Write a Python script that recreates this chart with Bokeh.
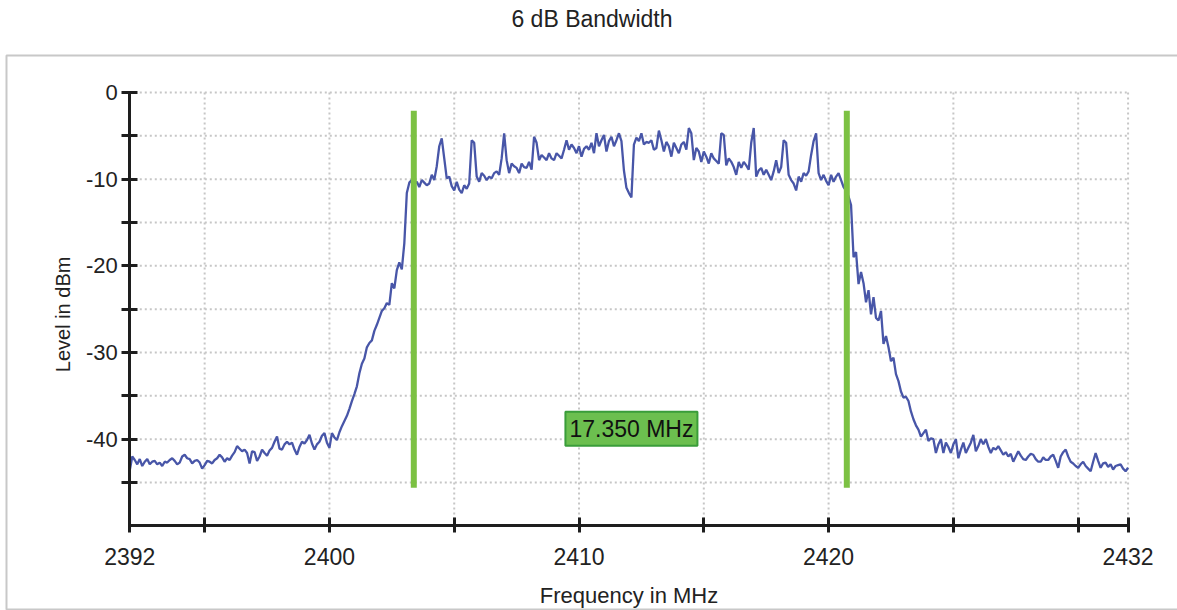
import math
from bokeh.plotting import figure
from bokeh.models import Range1d, FixedTicker, Label, BoxAnnotation
from bokeh.embed import file_html
from bokeh.resources import INLINE

title_text = "6 dB Bandwidth"
x_label = "Frequency in MHz"
y_label = "Level in dBm"

freq_start = 2392.0
freq_step = 0.1

# measured level (dBm), one value per 0.1 MHz from 2392.0 to 2432.0
level_dbm = [
    -43.6, -42.0, -42.4, -42.9, -42.3, -43.1, -42.6, -42.3, -42.9, -42.6,   # 2392
    -42.5, -42.9, -42.7, -43.1, -42.6, -42.7, -42.4, -42.2, -42.5, -42.9,   # 2393
    -42.7, -42.0, -41.8, -42.2, -42.3, -42.8, -42.5, -42.4, -42.7, -43.4,   # 2394
    -43.0, -42.5, -42.6, -42.8, -42.4, -42.2, -41.8, -42.1, -42.6, -42.2,   # 2395
    -42.4, -41.9, -41.5, -40.8, -41.1, -41.4, -41.2, -41.6, -42.8, -41.4,   # 2396
    -41.5, -42.5, -42.0, -41.2, -41.6, -41.9, -41.3, -41.0, -40.3, -39.7,   # 2397
    -41.1, -41.2, -40.6, -40.3, -40.6, -40.4, -41.2, -41.8, -40.9, -40.3,   # 2398
    -40.5, -40.1, -39.5, -40.5, -41.2, -40.6, -40.3, -39.6, -39.3, -40.4,   # 2399
    -41.0, -39.3, -39.8, -40.1, -39.2, -38.5, -37.9, -37.3, -36.5, -35.6,   # 2400
    -34.8, -33.9, -32.4, -31.3, -30.7, -29.4, -28.9, -28.6, -27.5, -26.8,   # 2401
    -26.0, -25.2, -24.9, -24.3, -24.5, -22.0, -22.6, -20.5, -19.6, -20.4,   # 2402
    -17.4, -11.6, -10.4, -10.1, -10.6, -10.3, -10.9, -10.1, -10.4, -10.7,   # 2403
    -10.5, -9.5, -10.1, -8.5, -6.2, -5.3, -7.6, -9.9, -9.7, -10.8,          # 2404
    -11.3, -10.3, -11.2, -11.6, -10.7, -11.1, -10.5, -5.5, -5.8, -9.7,      # 2405
    -10.3, -9.3, -9.6, -10.1, -9.7, -9.9, -9.3, -9.1, -9.5, -7.6,           # 2406
    -4.7, -7.8, -9.3, -8.2, -8.5, -8.7, -9.3, -8.2, -8.6, -8.7,             # 2407
    -8.0, -8.9, -5.1, -5.8, -7.8, -7.2, -7.5, -7.8, -7.0, -7.6,             # 2408
    -7.8, -7.0, -7.3, -7.6, -6.6, -5.5, -6.6, -6.0, -6.4, -7.0,             # 2409
    -6.2, -7.4, -6.5, -6.2, -6.6, -5.8, -7.0, -4.7, -6.2, -5.5,             # 2410
    -4.9, -6.8, -5.6, -5.1, -6.2, -5.5, -4.7, -5.6, -9.0, -11.0,            # 2411
    -11.6, -12.1, -6.0, -5.2, -5.6, -4.7, -6.0, -5.7, -5.8, -5.5,           # 2412
    -6.6, -6.4, -4.4, -5.5, -6.8, -5.7, -6.2, -7.4, -5.8, -6.4,             # 2413
    -7.0, -6.0, -5.7, -6.6, -4.1, -4.7, -7.8, -6.4, -6.8, -8.0,             # 2414
    -6.8, -7.4, -8.2, -7.0, -7.6, -7.9, -8.2, -4.7, -4.9, -8.4,             # 2415
    -7.6, -8.0, -8.6, -9.5, -8.0, -8.7, -8.0, -8.4, -8.9, -5.8,             # 2416
    -4.1, -9.7, -9.0, -8.7, -9.5, -8.9, -9.5, -10.1, -9.1, -7.8,            # 2417
    -9.3, -8.6, -5.5, -5.8, -9.5, -10.1, -10.5, -11.3, -9.7, -10.3,         # 2418
    -9.3, -9.6, -9.1, -7.2, -5.6, -4.7, -9.3, -10.1, -9.5, -10.2,           # 2419
    -10.7, -9.5, -10.3, -9.7, -9.3, -10.1, -10.9, -11.3, -12.0, -13.0,      # 2420
    -19.0, -18.4, -22.1, -20.7, -22.0, -24.2, -22.8, -25.6, -23.6, -26.0,   # 2421
    -26.3, -25.2, -29.0, -28.1, -29.4, -31.0, -30.6, -32.5, -33.3, -34.5,   # 2422
    -35.2, -35.1, -35.6, -36.8, -37.7, -38.4, -38.9, -39.7, -39.3, -38.9,   # 2423
    -40.2, -39.9, -40.0, -41.6, -40.6, -40.0, -41.6, -40.4, -40.9, -41.6,   # 2424
    -40.6, -40.0, -42.2, -41.2, -40.4, -41.6, -41.0, -40.4, -39.5, -41.4,   # 2425
    -40.8, -40.0, -40.6, -40.0, -40.9, -41.6, -41.0, -41.2, -40.8, -41.3,   # 2426
    -41.8, -41.5, -42.0, -41.7, -42.6, -42.0, -41.4, -41.9, -42.3, -42.4,   # 2427
    -42.0, -41.7, -41.8, -42.3, -42.6, -42.6, -42.1, -42.4, -42.4, -42.0,   # 2428
    -41.8, -42.5, -43.3, -42.0, -41.5, -41.2, -42.0, -42.6, -42.8, -43.1,   # 2429
    -43.3, -42.9, -42.6, -43.1, -43.4, -43.7, -42.6, -41.6, -42.5, -43.3,   # 2430
    -42.8, -42.7, -43.2, -42.9, -43.5, -43.1, -43.0, -42.9, -43.4, -43.7,   # 2431
    -43.3,                                                                  # 2432
]
freq_mhz = [round(freq_start + i * freq_step, 2) for i in range(len(level_dbm))]

x_min, x_max = 2392, 2432
y_min, y_max = -50, 0
x_ticks = [2392, 2395, 2400, 2405, 2410, 2415, 2420, 2425, 2430, 2432]
x_tick_labels = ["2392", "", "2400", "", "2410", "", "2420", "", "", "2432"]
y_ticks = [0, -5, -10, -15, -20, -25, -30, -35, -40, -45]
y_tick_labels = ["0", "", "-10", "", "-20", "", "-30", "", "-40", ""]

marker_freqs = [2403.38, 2420.73]
marker_top = -2.1
marker_bottom = -45.6
bandwidth_label_pos = (2412.1, -38.8)

FONT = "Liberation Sans"
INK = "#1e1e1e"
TEXT = "#222222"

# the frame covers the whole canvas; axes sit inside it at fixed locations
p = figure(width=1177, height=610,
           x_range=Range1d(2386.82, 2433.98), y_range=Range1d(-59.77, 10.62),
           output_backend="svg", toolbar_location=None,
           min_border_left=0, min_border_right=0,
           min_border_top=0, min_border_bottom=0)
p.title.visible = False
p.outline_line_color = None
p.background_fill_color = "white"
p.border_fill_color = "white"
p.xgrid.visible = False
p.ygrid.visible = False

# grey panel box under the chart
p.add_layout(BoxAnnotation(left=2387.06, right=2440.0, top=4.27, bottom=-59.65,
                           fill_alpha=0, line_color="#c8c8c8", line_alpha=1.0,
                           line_width=2, level="underlay"))

# title and y label
p.add_layout(Label(x=2410.52, y=8.54, text=title_text, text_align="center",
                   text_baseline="middle", text_font=FONT, text_font_size="23px",
                   text_color=TEXT))
p.add_layout(Label(x=2389.31, y=-25.6, text=y_label, angle=math.pi / 2,
                   text_align="center", text_baseline="middle", text_font=FONT,
                   text_font_size="20px", text_color=TEXT))

# dotted grid, limited to the axis box
grid_style = dict(line_color="#c6c6c6", line_width=2, line_dash="2 3")
vx = x_ticks[1:]
p.segment(x0=vx, y0=[y_max] * len(vx), x1=vx, y1=[y_min] * len(vx), **grid_style)
p.segment(x0=[x_min] * len(y_ticks), y0=y_ticks, x1=[x_max] * len(y_ticks), y1=y_ticks,
          **grid_style)

# trace
p.line(freq_mhz, level_dbm, line_color="#4856a8", line_width=2.3)

# 6 dB markers
p.segment(x0=marker_freqs, y0=[marker_top] * 2, x1=marker_freqs,
          y1=[marker_bottom] * 2, line_color="#7cc143", line_width=6)

bw = marker_freqs[1] - marker_freqs[0]
p.add_layout(Label(x=bandwidth_label_pos[0], y=bandwidth_label_pos[1],
                   text=f"{bw:.3f} MHz", text_align="center", text_baseline="middle",
                   text_font=FONT, text_font_size="23px", text_color="#111111",
                   background_fill_color="#6cbf4f", border_line_color="#3a9d3a",
                   border_line_width=2, padding=4))

# axes
for ax in (p.xaxis, p.yaxis):
    ax.axis_line_color = INK
    ax.axis_line_width = 3
    ax.major_tick_line_color = INK
    ax.major_tick_line_width = 3
    ax.minor_tick_line_color = None
    ax.major_label_text_font = FONT
    ax.major_label_text_color = TEXT
    ax.axis_label_text_font = FONT
    ax.axis_label_text_font_style = "normal"
    ax.axis_label_text_color = TEXT

p.xaxis.fixed_location = y_min
p.xaxis.bounds = (x_min, x_max)
p.xaxis.ticker = FixedTicker(ticks=x_ticks)
p.xaxis.major_label_overrides = dict(zip(x_ticks, x_tick_labels))
p.xaxis.major_tick_in = 8
p.xaxis.major_tick_out = 7
p.xaxis.major_label_standoff = 15
p.xaxis.major_label_text_font_size = "23px"
p.xaxis.axis_label = x_label
p.xaxis.axis_label_text_font_size = "22px"
p.xaxis.axis_label_standoff = 15

p.yaxis.fixed_location = x_min
p.yaxis.bounds = (y_min, y_max)
p.yaxis.ticker = FixedTicker(ticks=y_ticks)
p.yaxis.major_label_overrides = dict(zip(y_ticks, y_tick_labels))
p.yaxis.major_tick_in = 8
p.yaxis.major_tick_out = 8
p.yaxis.major_label_standoff = 4
p.yaxis.major_label_text_font_size = "22px"

open("out.html", "w").write(file_html(p, INLINE))
